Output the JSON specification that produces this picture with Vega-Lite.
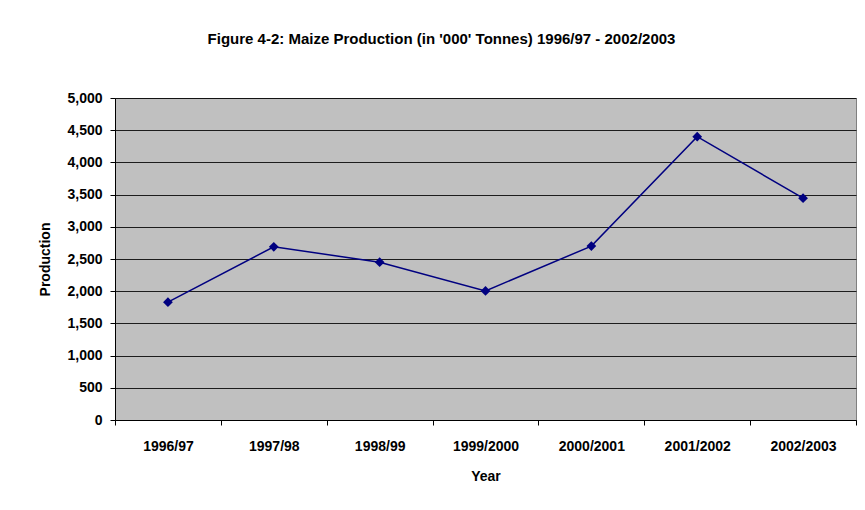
{
  "$schema": "https://vega.github.io/schema/vega-lite/v6.json",
  "width": 741,
  "height": 322,
  "autosize": {"type": "none"},
  "padding": {"left": 115, "top": 98, "right": 9, "bottom": 90},
  "background": "white",
  "config": {
    "font": "Liberation Sans",
    "view": {"fill": "#C0C0C0", "stroke": "#808080", "strokeWidth": 1}
  },
  "title": {
    "text": "Figure 4-2:  Maize Production (in '000' Tonnes) 1996/97 - 2002/2003",
    "font": "Liberation Sans",
    "fontSize": 15,
    "fontWeight": "bold",
    "color": "#000000",
    "anchor": "middle",
    "dx": -44,
    "offset": 44
  },
  "data": {
    "values": [
      {"Year": "1996/97", "Production": 1830},
      {"Year": "1997/98", "Production": 2690},
      {"Year": "1998/99", "Production": 2450},
      {"Year": "1999/2000", "Production": 2005},
      {"Year": "2000/2001", "Production": 2700},
      {"Year": "2001/2002", "Production": 4400},
      {"Year": "2002/2003", "Production": 3445}
    ]
  },
  "encoding": {
    "x": {
      "field": "Year",
      "type": "ordinal",
      "sort": null,
      "scale": {"type": "band", "paddingInner": 0, "paddingOuter": 0},
      "axis": {
        "title": "Year",
        "titleFont": "Liberation Sans",
        "titleFontSize": 14,
        "titleFontWeight": "bold",
        "titleColor": "#000000",
        "titlePadding": 16,
        "labelFont": "Liberation Sans",
        "labelFontSize": 14,
        "labelFontWeight": "bold",
        "labelColor": "#000000",
        "labelAngle": 0,
        "labelPadding": 14,
        "tickBand": "extent",
        "tickColor": "#000000",
        "tickSize": 5,
        "domainColor": "#000000",
        "grid": false
      }
    },
    "y": {
      "field": "Production",
      "type": "quantitative",
      "scale": {"domain": [0, 5000], "nice": false},
      "axis": {
        "title": "Production",
        "titleFont": "Liberation Sans",
        "titleFontSize": 14,
        "titleFontWeight": "bold",
        "titleColor": "#000000",
        "titlePadding": 14,
        "values": [0, 500, 1000, 1500, 2000, 2500, 3000, 3500, 4000, 4500, 5000],
        "format": ",d",
        "labelFont": "Liberation Sans",
        "labelFontSize": 14,
        "labelFontWeight": "bold",
        "labelColor": "#000000",
        "labelPadding": 8,
        "tickColor": "#000000",
        "tickSize": 5,
        "domainColor": "#000000",
        "grid": true,
        "gridColor": "#000000",
        "gridOpacity": 0.85,
        "gridWidth": 1
      }
    }
  },
  "layer": [
    {"mark": {"type": "line", "color": "#000080", "strokeWidth": 1.5}},
    {"mark": {"type": "point", "shape": "diamond", "filled": true, "color": "#000080", "size": 95, "opacity": 1}}
  ]
}
